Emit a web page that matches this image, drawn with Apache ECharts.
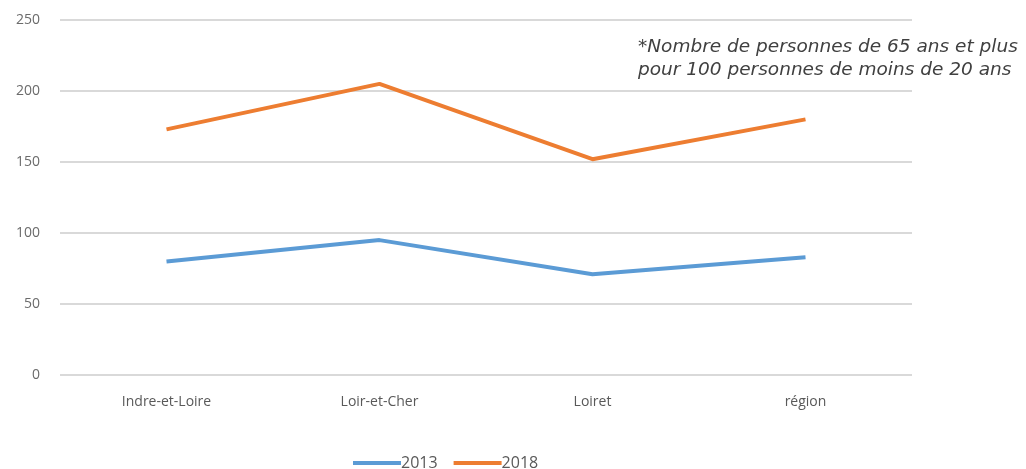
<!DOCTYPE html>
<html>
<head>
<meta charset="utf-8">
<script src="https://cdn.jsdelivr.net/npm/echarts@6/dist/echarts.min.js"></script>
<style>
  html, body { margin: 0; padding: 0; background: #fff; }
  #main { width: 1026px; height: 469px; }
</style>
</head>
<body>
<div id="main"></div>
<script>
var categories = ["Indre-et-Loire", "Loir-et-Cher", "Loiret", "région"];
var values2013 = [80, 95, 71, 83];
var values2018 = [173, 205, 152, 180];
var yTicks = [0, 50, 100, 150, 200, 250];

var chart = echarts.init(document.getElementById("main"));
chart.setOption({
  animation: false,
  textStyle: { fontFamily: "Open Sans" },
  graphic: [
    {
      type: "text",
      left: 638,
      top: 36,
      style: {
        text: "*Nombre de personnes de 65 ans et plus\npour 100 personnes de moins de 20 ans",
        font: "italic 18.5px 'DejaVu Sans'",
        fill: "#404040",
        lineHeight: 23
      }
    }
  ],
  legend: {
    top: 450,
    left: 348,
    itemWidth: 48,
    itemHeight: 4,
    itemGap: 16,
    icon: "rect",
    textStyle: { color: "#595959", fontSize: 16, padding: [0, 0, 0, -5] },
    data: ["2013", "2018"]
  },
  grid: { left: 60, right: 114, top: 20, bottom: 94 },
  xAxis: {
    type: "category",
    data: categories,
    axisLine: { show: false },
    axisTick: { show: false },
    axisLabel: { color: "#595959", fontSize: 14, margin: 20 }
  },
  yAxis: {
    type: "value",
    min: yTicks[0],
    max: yTicks[yTicks.length - 1],
    interval: 50,
    axisLabel: { color: "#6b6b6b", fontSize: 14, margin: 20 },
    splitLine: { lineStyle: { color: "#d9d9d9", width: 2 } }
  },
  series: [
    {
      name: "2013",
      type: "line",
      data: values2013,
      symbol: "none",
      lineStyle: { color: "#5b9bd5", width: 4 },
      itemStyle: { color: "#5b9bd5" }
    },
    {
      name: "2018",
      type: "line",
      data: values2018,
      symbol: "none",
      lineStyle: { color: "#ed7d31", width: 4 },
      itemStyle: { color: "#ed7d31" }
    }
  ]
});
</script>
</body>
</html>
